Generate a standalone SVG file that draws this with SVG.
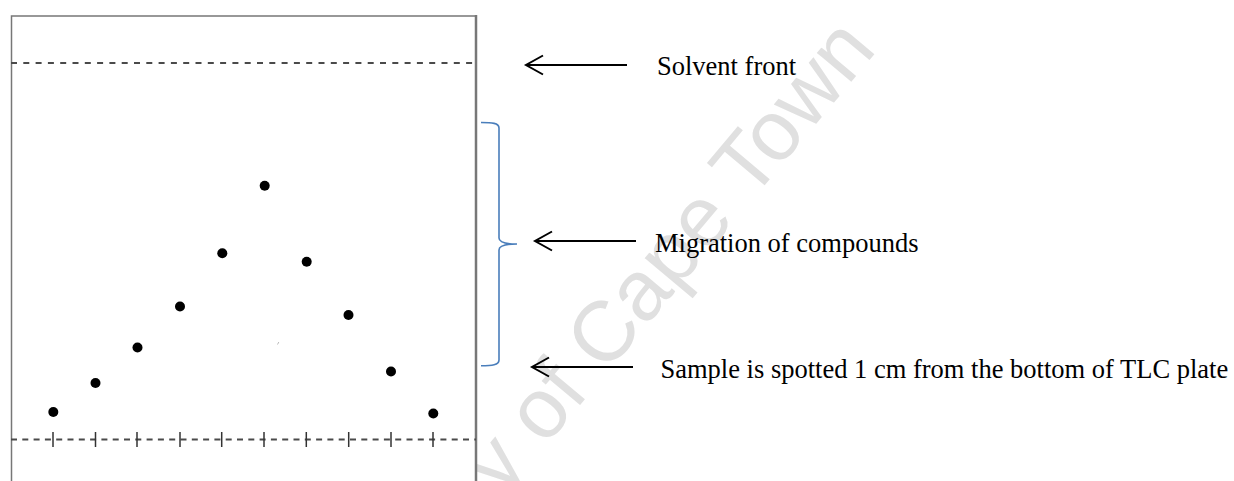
<svg xmlns="http://www.w3.org/2000/svg" width="1234" height="481" viewBox="0 0 1234 481">
<style>
.wm{font-family:"Liberation Sans",Arial,sans-serif;font-size:85px;fill:#e0e0e0}
.lbl{font-family:"Liberation Serif","Times New Roman",serif;font-size:26.5px;fill:#000}
.border{stroke:#777;fill:none}
.dash{stroke:#4a4a4a;stroke-width:2.2;fill:none}
.tick{stroke:#333;stroke-width:1.5}
.spot{fill:#000}
.arrow{stroke:#000;stroke-width:2;fill:none}
.brace{stroke:#4a7ebb;stroke-width:1.6;fill:none}
</style>
<rect width="1234" height="481" fill="#fff"/>
<text class="wm" transform="translate(878,50) rotate(-50)" text-anchor="end">University of Cape Town</text>
<g id="plate">
<rect x="11.5" y="16" width="464.5" height="470" fill="#fff" stroke="none"/>
<path class="border" stroke-width="1.5" d="M11.5,481 V16 H476"/>
<path class="border" stroke="#888" stroke-width="2.5" d="M476,15 V481"/>
<line class="dash" x1="11" y1="63" x2="476" y2="63" stroke-dasharray="6,6.3"/>
<line class="dash" x1="11" y1="439.5" x2="476" y2="439.5" stroke-dasharray="6,5.3"/>
<g>
<line class="tick" x1="53" y1="432" x2="53" y2="447"/>
<line class="tick" x1="95.5" y1="432" x2="95.5" y2="447"/>
<line class="tick" x1="137" y1="432" x2="137" y2="447"/>
<line class="tick" x1="180" y1="432" x2="180" y2="447"/>
<line class="tick" x1="221.7" y1="432" x2="221.7" y2="447"/>
<line class="tick" x1="264" y1="432" x2="264" y2="447"/>
<line class="tick" x1="306.3" y1="432" x2="306.3" y2="447"/>
<line class="tick" x1="348.7" y1="432" x2="348.7" y2="447"/>
<line class="tick" x1="391" y1="432" x2="391" y2="447"/>
<line class="tick" x1="433" y1="432" x2="433" y2="447"/>
</g>
<circle class="spot" cx="53.3" cy="412" r="5"/>
<circle class="spot" cx="95.5" cy="383" r="5"/>
<circle class="spot" cx="137.5" cy="347.5" r="5"/>
<circle class="spot" cx="180" cy="306.5" r="5"/>
<circle class="spot" cx="222.3" cy="253.3" r="5"/>
<circle class="spot" cx="264.7" cy="185.7" r="5"/>
<circle class="spot" cx="306.7" cy="261.7" r="5"/>
<circle class="spot" cx="348.5" cy="315" r="5"/>
<circle class="spot" cx="391" cy="371.5" r="5"/>
<circle class="spot" cx="433.3" cy="413.5" r="5"/>
<path d="M277.5,344.5 L278.8,342" stroke="#bbb" stroke-width="1"/>
</g>
<g id="brace">
<path class="brace" d="M481,122.5 C492,122.5 499,123 499,128 V238 C499,242 505,244 517,244 C505,244 499,246 499,250 V360 C499,365 492,365.7 481,365.7"/>
</g>
<g id="connectors">
<path class="arrow" d="M627,65 H526 M543,55.5 L526,65 L543,74.5"/>
<path class="arrow" d="M636,241 H535 M552,231.5 L535,241 L552,250.5"/>
<path class="arrow" d="M633,367 H532 M549,357.5 L532,367 L549,376.5"/>
</g>
<g id="label-solvent"><text class="lbl" x="657" y="75">Solvent front</text></g>
<g id="label-migration"><text class="lbl" x="655" y="251.5">Migration of compounds</text></g>
<g id="label-sample"><text class="lbl" x="660.5" y="377.5">Sample is spotted 1 cm from the bottom of TLC plate</text></g>
</svg>
